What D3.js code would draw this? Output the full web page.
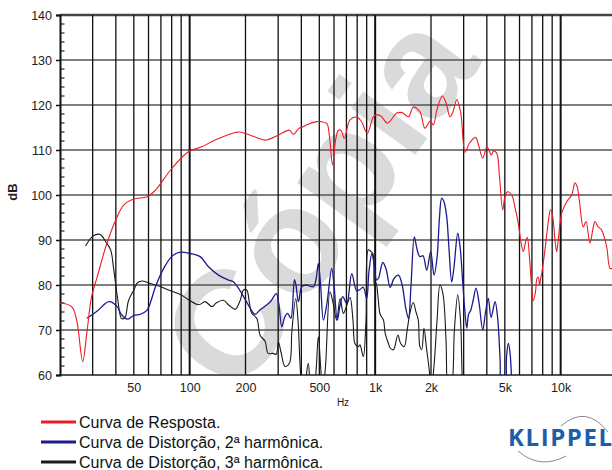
<!DOCTYPE html>
<html><head><meta charset="utf-8">
<script src="https://cdn.jsdelivr.net/npm/d3@7"></script>
<style>body{margin:0;background:#fff}svg{display:block}</style>
</head><body><svg id="c" width="612" height="470"></svg>
<script>
const yTicks=[60,70,80,90,100,110,120,130,140];
const xTickValues=[50,100,200,500,1000,2000,5000,10000];
const xTickLabels=["50","100","200","500","1k","2k","5k","10k"];
const gridFreqs=[30,40,50,60,70,80,90,100,200,300,400,500,600,700,800,900,1000,2000,3000,4000,5000,6000,7000,8000,9000,10000];
const decadeFreqs=[100,1000,10000];

const respFreq=[20,23.1,24.6,26.5,27.9,29.6,31.8,35.3,39.9,44.2,50,59,65.4,80.5,98.5,116,137,176,187,225,255,300,345,362,390,402,428,485,505,548,567,589,611,633,655,682,732,795,839,907,979,1021,1077,1165,1309,1398,1512,1605,1742,1856,1975,2058,2155,2301,2409,2532,2628,2754,2894,3053,3220,3478,3587,3801,4010,4225,4347,4523,4682,4871,5000,5157,5446,5674,5911,6113,6290,6464,6611,6795,6965,7123,7320,7457,7579,7700,7800,7900,8231,8544,8812,9033,9319,9517,9732,10125,10773,11463,11942,12243,12597,13238,13690,14386,14933,15308,15889,16636,17701,18441,18905];
const respDb=[76,75.2,72.2,63,69.3,77.4,81.9,88.5,94.4,97.8,99.1,99.6,101.1,106,109.6,110.7,112.2,113.9,114,112.9,112.2,113.3,114.4,113.5,114.9,115,115.6,116.3,116.3,115.9,113,106.7,112,114.4,114.3,112.6,116.7,117.3,116.5,113.7,117.4,117.8,117.5,116,118.2,118.3,117.4,119.5,118.5,114.8,116.4,115.6,119,122,120.5,117.4,118.5,121.2,118.2,109.5,111.5,112.8,111.5,108.2,110.7,108.9,109.8,109.3,104,96.7,99.5,100.7,100,97.2,93.7,89.5,87.4,89.5,90.6,86,80,76.5,78.5,81.5,81.7,80,81.5,82.5,87.8,93.5,96.7,95.5,90,87.4,90.5,95.9,98.5,100,102.7,102,98.9,92.9,94.1,89.3,92.5,94.1,93,92.2,88.5,83.7,83.7];

const h2Freq=[27.9,31.9,36.7,40.7,42.8,46.1,49.8,54.3,59,61.9,65.4,74.1,80.8,89.2,100.6,114,126,143,162,172,191,207,225,240,261,275,293,302,314,325,337,351,367,374,386,402,424,465,481,494,508,526,550,583,600,625,647,669,703,748,795,828,863,900,926,960,988,1019,1042,1100,1146,1205,1266,1335,1398,1460,1512,1561,1626,1681,1742,1811,1896,1993,2076,2155,2222,2284,2350,2430,2501,2586,2661,2788,2869,2967,3034,3118,3188,3276,3371,3499,3632,3801,3936,4075,4214,4429,4567,4711,4829,5000,5107,5222,5333,5467];
const h2Db=[72.6,74.3,76.3,75.2,73.5,72.4,73.2,73.5,74.4,76.5,79.6,84.4,86.5,87.3,87,86.3,84.1,82.2,81.1,80.7,78.1,75.6,73.5,74.5,75.6,76.5,78.1,76,70.7,72.8,73.7,72.6,81.2,80,76.3,79.6,80,79.6,81.5,84.8,80,72.2,76,83.7,80,72.2,75.5,77.4,75.9,82.5,78.7,79,79.5,77,83,87,84.5,81.1,81.5,85,83.5,79.5,81.5,82.2,80,75,72.6,80,90.7,88,86.3,86.5,83.3,87.4,82.2,86,95,99.3,98.5,95.2,88,80.7,84,91.5,88.5,80.4,75,70.4,73.5,74.4,76.5,79.3,76,70,74,77,72.8,76.3,73,64,56,56,64,67,65,56];

const h3Freq=[27.5,30,32.4,33.5,35.3,37.5,39,40.9,42.8,44,45.1,46.8,50,52.3,55.5,60,70,78.8,89.2,98,112,121,132,139,152,163,176,187,195,203,210,216,230,240,255,265,282,293,301,311,327,345,356,373,384,394,405,419,436,452,472,494,508,521,540,571,593,620,647,674,697,732,760,778,811,828,863,892,918,946,972,991,1012,1038,1064,1109,1132,1179,1205,1255,1326,1372,1433,1488,1544,1605,1660,1708,1742,1782,1833,1891,1958,2000,2076,2155,2236,2321,2409,2476,2592,2674,2788,2887,2978,3053];
const h3Db=[88.7,90.8,91.3,91,89.6,87.8,83.3,77,72.6,72.5,73,76.5,78.9,80.5,80.9,80.5,79.6,78.7,77.9,76.8,75.6,76.3,75.2,76,76.6,75.5,74.6,76.5,78.9,78.9,76,73.7,72.6,68.8,67.5,64.8,64.8,64.6,67.4,65,61.9,62.6,70,77,72,62,56,58,62.6,56,58,68.5,62,56,62,78.5,76,72.2,77,73.7,75,77.2,72,67,66.3,66.7,64.1,72,87.8,87.5,87,79.6,80.5,77,73.5,72.2,69.3,67,66,65.6,68.9,67,66.3,70,74,76.1,74,72.2,66.3,65.6,70.4,66,61,56,62,72,80,78,68,56,58,70,77.8,72,56,54];

const legendLabels=["Curva de Resposta.","Curva de Distorção, 2ª harmônica.","Curva de Distorção, 3ª harmônica."];
const colors=["#ec1c24","#1b1b8f","#1a1a1a"];

const svg=d3.select("#c");
const F="'Liberation Sans', Arial, sans-serif";
const x=d3.scaleLog().domain([20,20000]).range([60,616.5]);
const y=d3.scaleLinear().domain([60,140]).range([375,15]);

// watermark
svg.append("text").attr("transform","translate(318,200) rotate(-54)")
  .attr("text-anchor","middle").attr("dominant-baseline","central")
  .style("font-family",F).style("font-weight","bold").style("font-size","150px")
  .attr("fill","#dadada").text("Cópia");

svg.append("clipPath").attr("id","clip").append("rect").attr("x",60).attr("y",15).attr("width",560).attr("height",360);

// horizontal grid
svg.append("g").selectAll("line").data(yTicks).join("line")
  .attr("x1",60).attr("x2",612).attr("y1",d=>y(d)).attr("y2",d=>y(d))
  .attr("stroke",d=>d===140?"#444":"#555").attr("stroke-width",d=>d===140?2.5:(d===60?2:1.6));
// vertical grid
svg.append("g").selectAll("line").data(gridFreqs).join("line")
  .attr("x1",d=>x(d)).attr("x2",d=>x(d)).attr("y1",15).attr("y2",375)
  .attr("stroke","#111").attr("stroke-width",d=>decadeFreqs.includes(d)?2:1.3);

// y axis
const yAxis=d3.axisLeft(y).tickValues(yTicks).tickSize(4).tickPadding(4);
const ga=svg.append("g").attr("transform","translate(60,0)").call(yAxis);
ga.select(".domain").attr("stroke","#111").attr("stroke-width",2);
ga.selectAll(".tick line").attr("stroke","#111").attr("stroke-width",1.5);
ga.selectAll("text").style("font-family",F).style("font-size","12.5px").attr("fill","#222");
const minor=d3.range(62,140,2).filter(v=>v%10!==0);
svg.append("g").selectAll("line").data(minor).join("line")
  .attr("x1",60).attr("x2",64.5).attr("y1",d=>y(d)).attr("y2",d=>y(d)).attr("stroke","#222").attr("stroke-width",1.2);

// x axis labels
const xAxis=d3.axisBottom(x).tickValues(xTickValues).tickSize(0).tickPadding(8).tickFormat((d,i)=>xTickLabels[i]);
const gx=svg.append("g").attr("transform","translate(0,375)").call(xAxis);
gx.select(".domain").remove();
gx.selectAll("text").style("font-family",F).style("font-size","12.5px").attr("fill","#222");

svg.append("text").attr("x",343).attr("y",406).attr("text-anchor","middle").style("font-family",F).style("font-size","10px").attr("fill","#222").text("Hz");
svg.append("text").attr("transform","translate(17,192) rotate(-90)").attr("text-anchor","middle").style("font-family",F).style("font-size","13px").style("font-weight","bold").attr("fill","#222").text("dB");

// curves
const line=d3.line().x(d=>x(d[0])).y(d=>y(d[1])).curve(d3.curveCatmullRom.alpha(0.5));
const series=[[respFreq,respDb],[h2Freq,h2Db],[h3Freq,h3Db]];
const cg=svg.append("g").attr("clip-path","url(#clip)");
[2,1,0].forEach(i=>{
  const [f,v]=series[i];
  cg.append("path").datum(f.map((d,j)=>[d,v[j]])).attr("d",line)
    .attr("fill","none").attr("stroke",colors[i]).attr("stroke-width",i===1?1.3:1.1);
});

// legend
const lg=svg.append("g");
legendLabels.forEach((t,i)=>{
  const yy=422+i*20;
  lg.append("line").attr("x1",41).attr("x2",76).attr("y1",yy).attr("y2",yy).attr("stroke",colors[i]).attr("stroke-width",3);
  lg.append("text").attr("x",79).attr("y",yy+5.5).style("font-family",F).style("font-size","16px").attr("fill","#111").text(t);
});

// logo
svg.append("path").attr("d","M561,426 Q586,404 608,432").attr("fill","none").attr("stroke","#8a8a8a").attr("stroke-width",1);
svg.append("path").attr("d","M518,451 Q540,470 566,456").attr("fill","none").attr("stroke","#8a8a8a").attr("stroke-width",1);
svg.append("text").attr("x",508).attr("y",446).style("font-family","'Open Sans', "+F).style("font-weight","bold").style("font-size","24px").attr("fill","#1c5ea8").attr("textLength",104).text("KLIPPEL");
</script></body></html>
